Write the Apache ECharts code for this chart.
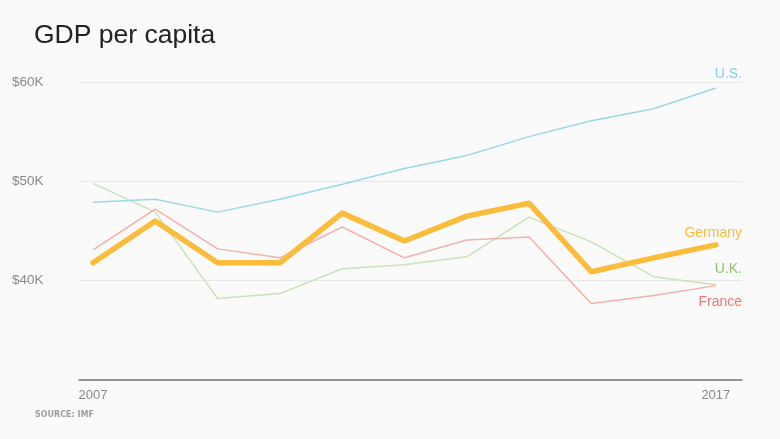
<!DOCTYPE html>
<html><head><meta charset="utf-8">
<script src="https://cdn.jsdelivr.net/npm/echarts@6/dist/echarts.min.js"></script>
<style>html,body{margin:0;padding:0;background:#fafafa}#c{width:780px;height:439px}</style>
</head><body><div id="c"></div>
<script>
const years = [2007,2008,2009,2010,2011,2012,2013,2014,2015,2016,2017];
const us      = [47.9,48.2,46.9,48.2,49.7,51.3,52.6,54.5,56.1,57.3,59.4];
const germany = [41.8,46.0,41.8,41.8,46.8,44.0,46.5,47.8,40.9,42.3,43.6];
const france  = [43.1,47.2,43.2,42.3,45.4,42.3,44.1,44.4,37.7,38.5,39.5];
const uk      = [49.8,46.9,38.2,38.7,41.2,41.6,42.4,46.4,43.9,40.4,39.6];
const yTicks = [30,40,50,60];
const xTickLabels = [2007,2017];

const pair = arr => years.map((y,i)=>[y,arr[i]]);
const chart = echarts.init(document.getElementById('c'));
const font = "'Helvetica Neue', Helvetica, Arial, 'Liberation Sans', sans-serif";
chart.setOption({
  backgroundColor:'#fafafa',
  animation:false,
  grid:{left:79,right:38,top:82,bottom:59},
  xAxis:{type:'value',min:2006.775,max:2017.42,
    axisLine:{show:true,lineStyle:{color:'#777',width:1.5}},
    axisTick:{show:false},splitLine:{show:false},
    axisLabel:{customValues:xTickLabels,color:'#888',fontSize:13,fontFamily:font,margin:9,formatter:v=>String(v)}},
  yAxis:{type:'value',min:30,max:60,interval:10,
    axisLine:{show:false},axisTick:{show:false},
    splitLine:{lineStyle:{color:'#e6e6e6',width:1}},
    axisLabel:{color:'#888',fontSize:13.5,fontFamily:font,align:'left',margin:67,
      formatter:v=>v===30?'':'$'+v+'K'}},
  series:[
    {type:'line',data:pair(uk),symbol:'none',lineStyle:{color:'#c9e3b9',width:1.5},z:2},
    {type:'line',data:pair(france),symbol:'none',lineStyle:{color:'#f4b0ab',width:1.5},z:3},
    {type:'line',data:pair(us),symbol:'none',lineStyle:{color:'#9cd8e4',width:1.5},z:3},
    {type:'line',data:pair(germany),symbol:'none',lineStyle:{color:'#fbbb3b',width:5.5,cap:'round',join:'round'},z:4}
  ],
  graphic:[
    {type:'text',left:34,top:22,style:{text:'GDP per capita',fill:'#222',font:'26.5px '+font}},
    {type:'text',left:35,top:411,style:{text:'SOURCE: IMF',fill:'#a0a0a0',font:'bold 8px "DejaVu Sans", sans-serif'}},
    {type:'text',right:38,top:67,style:{text:'U.S.',fill:'#83d0df',font:'14px '+font}},
    {type:'text',right:38,top:226,style:{text:'Germany',fill:'#fbb93a',font:'14px '+font}},
    {type:'text',right:38,top:262,style:{text:'U.K.',fill:'#8cc66c',font:'14px '+font}},
    {type:'text',right:38,top:295,style:{text:'France',fill:'#ef7777',font:'14px '+font}}
  ]
});
</script></body></html>
